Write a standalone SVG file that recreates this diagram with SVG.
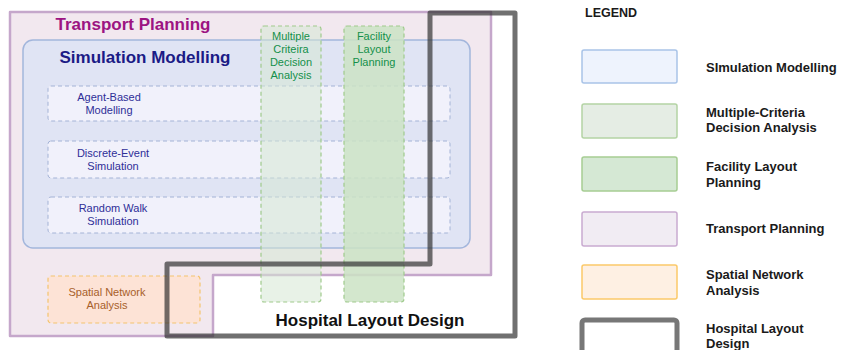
<svg xmlns="http://www.w3.org/2000/svg" width="841" height="350" viewBox="0 0 841 350">
<style>
text{font-family:"Liberation Sans",Arial,sans-serif}
.h{font-weight:bold}
.inner{fill:#f1f1fb;stroke:#a4b3d6;stroke-width:1;stroke-dasharray:4 3}
.it{font-size:11px;fill:#2e2e98;text-anchor:middle}
.gt{font-size:11px;fill:#14904a;text-anchor:middle}
.lg{font-size:13px;font-weight:bold;fill:#1a1a1a}
</style>
<rect width="841" height="350" fill="#ffffff"/>
<g id="transport-planning">
<path d="M10,12 H491 V275 H213 V336 H10 Z" fill="#f2e8ef" stroke="#c5a7cb" stroke-width="2.5" stroke-linejoin="round"/>
<text x="133" y="30" class="h" font-size="17" fill="#9c1482" text-anchor="middle">Transport Planning</text>
</g>
<g id="simulation-modelling">
<rect x="23" y="40" width="447" height="208" rx="10" fill="#e0e4f4" stroke="#a3b6dc" stroke-width="1.5"/>
<text x="145" y="63" class="h" font-size="17" fill="#1b1b86" text-anchor="middle">Simulation Modelling</text>
</g>
<g id="agent-based">
<rect x="48" y="86" width="402" height="35" rx="3" class="inner"/>
<text x="109" y="101" class="it">Agent-Based</text>
<text x="109" y="114" class="it">Modelling</text>
</g>
<g id="discrete-event">
<rect x="48" y="141" width="402" height="37" rx="3" class="inner"/>
<text x="113" y="157" class="it">Discrete-Event</text>
<text x="113" y="170" class="it">Simulation</text>
</g>
<g id="random-walk">
<rect x="48" y="197" width="402" height="36" rx="3" class="inner"/>
<text x="113" y="212" class="it">Random Walk</text>
<text x="113" y="225" class="it">Simulation</text>
</g>
<g id="spatial-network">
<rect x="48" y="276" width="152" height="47" rx="3" fill="#fde3d6" stroke="#f4c46e" stroke-width="1.2" stroke-dasharray="4 3"/>
<text x="107" y="296" font-size="11" fill="#a7602a" text-anchor="middle">Spatial Network</text>
<text x="107" y="309" font-size="11" fill="#a7602a" text-anchor="middle">Analysis</text>
</g>
<g id="mcda">
<rect x="261" y="26" width="60" height="276" rx="3" fill="#d5e8d4" fill-opacity="0.55" stroke="#9fca8c" stroke-width="1.2" stroke-dasharray="4 3"/>
<text x="291" y="40" class="gt">Multiple</text>
<text x="291" y="53" class="gt">Criteira</text>
<text x="291" y="66" class="gt">Decision</text>
<text x="291" y="79" class="gt">Analysis</text>
</g>
<g id="facility-layout">
<rect x="344" y="26" width="60" height="276" rx="3" fill="#cbe3c4" fill-opacity="0.85" stroke="#9fca8c" stroke-width="1.2" stroke-dasharray="4 3"/>
<text x="374" y="40" class="gt">Facility</text>
<text x="374" y="53" class="gt">Layout</text>
<text x="374" y="66" class="gt">Planning</text>
</g>
<g id="hospital-layout">
<path d="M430,13 H515 V336 H167 V264 H430 Z" fill="none" stroke="#333333" stroke-opacity="0.7" stroke-width="5" stroke-linejoin="round"/>
<text x="370" y="326" class="h" font-size="17" fill="#111111" text-anchor="middle">Hospital Layout Design</text>
</g>
<g id="legend">
<text x="585" y="17" class="h" font-size="12.5" fill="#1a1a1a">LEGEND</text>
<rect x="582" y="50" width="95" height="33" rx="2" fill="#eef3fd" stroke="#a9c4e8" stroke-width="1.5"/>
<text x="706" y="72" class="lg">SImulation Modelling</text>
<rect x="582" y="104" width="95" height="34" rx="2" fill="#e5ede4" stroke="#b4d4a4" stroke-width="1.5"/>
<text x="706" y="117" class="lg">Multiple-Criteria</text>
<text x="706" y="132" class="lg">Decision Analysis</text>
<rect x="582" y="157" width="95" height="34" rx="2" fill="#d5e8d4" stroke="#a6cd93" stroke-width="1.5"/>
<text x="706" y="171" class="lg">Facility Layout</text>
<text x="706" y="187" class="lg">Planning</text>
<rect x="582" y="212" width="95" height="34" rx="2" fill="#f1ecf3" stroke="#c9abd1" stroke-width="1.5"/>
<text x="706" y="233" class="lg">Transport Planning</text>
<rect x="582" y="265" width="95" height="34" rx="2" fill="#fef0e3" stroke="#fbc96a" stroke-width="1.5"/>
<text x="706" y="279" class="lg">Spatial Network</text>
<text x="706" y="295" class="lg">Analysis</text>
<rect x="582" y="320" width="95" height="40" rx="3" fill="#ffffff" stroke="#777777" stroke-width="5"/>
<text x="706" y="333" class="lg">Hospital Layout</text>
<text x="706" y="348" class="lg">Design</text>
</g>
</svg>
